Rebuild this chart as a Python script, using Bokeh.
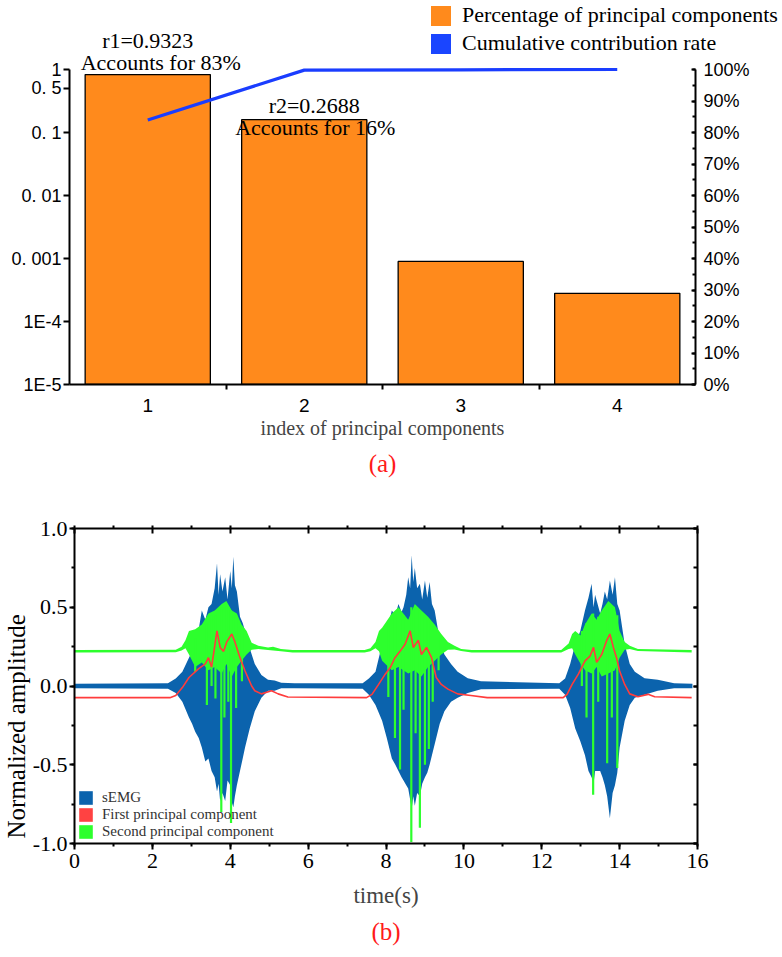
from bokeh.plotting import figure
from bokeh.models import (Range1d, LinearAxis, LinearScale, FixedTicker, SingleIntervalTicker,
                          PrintfTickFormatter, Legend, LegendItem, Label, Title)
from bokeh.layouts import column
from bokeh.embed import file_html
from bokeh.resources import INLINE

# ---------------- Panel (a) data ----------------
pc_index = [1, 2, 3, 4]
pc_percentage = [0.83, 0.16, 0.0009, 0.00028]
cum_contribution = [84.0, 99.8, 99.9, 100.0]
left_tick_values = [1e-5, 1e-4, 1e-3, 1e-2, 0.1, 0.5, 1.0]
left_tick_labels = ["1E-5", "1E-4", "0. 001", "0. 01", "0. 1", "0. 5", "1"]
x_tick_labels = ["1", "2", "3", "4"]
r_labels = ["r1=0.9323", "r2=0.2688"]
acc_labels = ["Accounts for 83%", "Accounts for 16%"]
a_legend_labels = ["Percentage of principal components", "Cumulative contribution rate"]

# ---------------- Panel (b) data ----------------
emg_t = [0.0, 2.4, 2.6, 2.77, 2.94, 3.02, 3.1, 3.19, 3.27, 3.36, 3.44, 3.52, 3.6, 3.66, 3.7,
         3.74, 3.8, 3.87, 3.93, 4.0, 4.04, 4.08, 4.12, 4.17, 4.25, 4.32, 4.38, 4.5, 4.63, 4.8,
         4.97, 5.14, 5.31, 5.65, 7.4, 7.56, 7.73, 7.9, 8.02, 8.15, 8.24, 8.32, 8.4, 8.45, 8.52,
         8.57, 8.62, 8.66, 8.7, 8.74, 8.8, 8.87, 8.93, 9.0, 9.06, 9.12, 9.18, 9.25, 9.38, 9.5,
         9.67, 9.84, 10.1, 10.44, 12.45, 12.6, 12.73, 12.86, 12.99, 13.11, 13.2, 13.28, 13.33,
         13.37, 13.5, 13.56, 13.62, 13.68, 13.75, 13.82, 13.88, 13.94, 14.0, 14.13, 14.26,
         14.39, 14.64, 14.98, 15.4, 15.87]
emg_upper = [0.015, 0.018, 0.048, 0.09, 0.18, 0.22, 0.29, 0.36, 0.48, 0.42, 0.50, 0.52, 0.62,
             0.78, 0.58, 0.71, 0.60, 0.69, 0.55, 0.73, 0.62, 0.82, 0.64, 0.60, 0.44, 0.40, 0.35,
             0.24, 0.14, 0.07, 0.04, 0.035, 0.02, 0.018, 0.018, 0.048, 0.09, 0.265, 0.35, 0.48,
             0.45, 0.52, 0.47, 0.50, 0.58, 0.69, 0.62, 0.83, 0.66, 0.75, 0.62, 0.65, 0.55, 0.67,
             0.56, 0.66, 0.52, 0.48, 0.29, 0.20, 0.14, 0.09, 0.05, 0.03, 0.018, 0.048, 0.14,
             0.265, 0.35, 0.48, 0.56, 0.65, 0.50, 0.58, 0.46, 0.52, 0.60, 0.55, 0.67, 0.58,
             0.69, 0.52, 0.48, 0.265, 0.14, 0.09, 0.05, 0.04, 0.018, 0.015]
emg_lower = [-0.015, -0.018, -0.045, -0.10, -0.20, -0.24, -0.29, -0.33, -0.39, -0.48, -0.46,
             -0.54, -0.58, -0.67, -0.62, -0.73, -0.68, -0.73, -0.60, -0.63, -0.74, -0.77, -0.70,
             -0.63, -0.54, -0.46, -0.39, -0.27, -0.16, -0.075, -0.03, -0.03, -0.015, -0.015,
             -0.018, -0.055, -0.12, -0.22, -0.33, -0.46, -0.50, -0.54, -0.58, -0.60, -0.63,
             -0.65, -0.72, -0.78, -0.70, -0.76, -0.68, -0.70, -0.62, -0.58, -0.55, -0.50, -0.44,
             -0.37, -0.24, -0.16, -0.10, -0.075, -0.045, -0.02, -0.018, -0.055, -0.14, -0.27,
             -0.35, -0.44, -0.54, -0.58, -0.62, -0.54, -0.54, -0.58, -0.63, -0.70, -0.84, -0.68,
             -0.63, -0.55, -0.39, -0.22, -0.12, -0.075, -0.055, -0.03, -0.015, -0.015]

pc1_t = [0.0, 2.45, 2.6, 2.77, 2.94, 3.19, 3.36, 3.44, 3.52, 3.66, 3.74, 3.83, 3.91, 4.04, 4.12,
         4.25, 4.38, 4.55, 4.63, 4.8, 5.06, 5.23, 5.48, 7.5, 7.64, 7.81, 7.98, 8.11, 8.23, 8.36,
         8.49, 8.62, 8.7, 8.83, 8.91, 9.04, 9.17, 9.29, 9.42, 9.59, 9.84, 10.18, 10.6, 12.55,
         12.65, 12.78, 12.94, 13.11, 13.24, 13.33, 13.41, 13.54, 13.67, 13.75, 13.84, 13.92,
         14.0, 14.13, 14.26, 14.47, 14.73, 14.9, 15.85]
pc1_v = [-0.074, -0.074, -0.06, -0.01, 0.054, 0.11, 0.14, 0.18, 0.12, 0.35, 0.245, 0.22, 0.28,
         0.33, 0.28, 0.18, 0.095, 0.0, -0.03, -0.05, -0.03, -0.05, -0.07, -0.074, -0.053, 0.01,
         0.075, 0.117, 0.18, 0.22, 0.265, 0.35, 0.245, 0.29, 0.2, 0.245, 0.18, 0.054, 0.01,
         -0.02, -0.05, -0.06, -0.074, -0.074, -0.053, 0.01, 0.075, 0.16, 0.19, 0.245, 0.15,
         0.2, 0.29, 0.33, 0.245, 0.18, 0.095, 0.01, -0.05, -0.068, -0.053, -0.068, -0.074]

pc2_t = [0.0, 2.6, 2.75, 2.85, 2.94, 3.1, 3.27, 3.44, 3.6, 3.78, 3.9, 4.04, 4.17, 4.29, 4.42,
         4.55, 4.72, 4.97, 5.1, 5.3, 5.6, 7.45, 7.6, 7.73, 7.82, 7.9, 8.15, 8.32, 8.57, 8.74,
         8.91, 9.08, 9.25, 9.42, 9.59, 9.76, 9.93, 10.2, 12.5, 12.69, 12.78, 12.86, 13.0, 13.11,
         13.28, 13.41, 13.54, 13.71, 13.88, 14.0, 14.13, 14.26, 14.47, 15.85]
pc2_top = [0.228, 0.23, 0.25, 0.29, 0.35, 0.36, 0.39, 0.46, 0.48, 0.52, 0.54, 0.48, 0.46, 0.39,
           0.35, 0.275, 0.255, 0.245, 0.25, 0.235, 0.228, 0.228, 0.24, 0.28, 0.35, 0.37, 0.46,
           0.50, 0.42, 0.52, 0.48, 0.44, 0.39, 0.33, 0.28, 0.255, 0.235, 0.228, 0.228, 0.27,
           0.33, 0.35, 0.32, 0.39, 0.46, 0.42, 0.48, 0.54, 0.50, 0.35, 0.28, 0.255, 0.235, 0.228]
pc2_bottom = [0.212, 0.214, 0.225, 0.24, 0.20, 0.12, 0.15, 0.10, 0.12, 0.08, 0.14, 0.06, 0.12,
              0.16, 0.20, 0.23, 0.235, 0.228, 0.225, 0.22, 0.212, 0.212, 0.22, 0.24, 0.22, 0.16,
              0.10, 0.12, 0.08, 0.10, 0.06, 0.12, 0.16, 0.20, 0.23, 0.232, 0.222, 0.212, 0.212,
              0.235, 0.24, 0.20, 0.14, 0.10, 0.08, 0.12, 0.06, 0.08, 0.10, 0.18, 0.23, 0.235,
              0.222, 0.212]
pc2_spike_t = [3.10, 3.40, 3.52, 3.62, 3.77, 3.85, 3.95, 4.02, 4.15, 4.30,
               8.06, 8.23, 8.36, 8.45, 8.65, 8.76, 8.87, 9.0, 9.1, 9.2, 9.35,
               13.03, 13.15, 13.32, 13.45, 13.68, 13.8, 13.94]
pc2_spike_top = [0.30, 0.40, 0.45, 0.45, 0.50, 0.50, 0.50, 0.48, 0.45, 0.38,
                 0.40, 0.46, 0.48, 0.45, 0.50, 0.50, 0.48, 0.45, 0.42, 0.38, 0.33,
                 0.35, 0.40, 0.46, 0.44, 0.50, 0.50, 0.45]
pc2_spike_bottom = [0.09, -0.12, 0.0, -0.08, -0.80, -0.20, -0.10, -0.87, -0.14, 0.03,
                    -0.07, -0.33, -0.53, -0.15, -0.99, -0.30, -0.90, -0.50, -0.40, -0.10, 0.10,
                    0.0, -0.20, -0.69, -0.10, -0.49, -0.20, -0.52]

b_legend_labels = ["sEMG", "First principal component", "Second principal component"]

SANS = "Liberation Sans Narrow, Liberation Sans, Arial, sans-serif"
SERIF = "Liberation Serif, Times New Roman, serif"

ORANGE = "#ff8a1c"
LINE_BLUE = "#1a3dff"
EMG_BLUE = "#0b63ad"
PC1_RED = "#ff3c3c"
PC2_GREEN = "#2dff2d"

# ================= Legend strip of panel (a) =================
# a transparent strip laid over the top of panel (a), so that the legend may
# run past the percentage axis
LEG_H = 56
lf = figure(width=782, height=LEG_H, x_range=Range1d(0, 1), y_range=Range1d(0, 1),
            output_backend="svg", toolbar_location=None,
            x_axis_location=None, y_axis_location=None, frame_align=False,
            min_border_left=0, min_border_right=0, min_border_top=0, min_border_bottom=0)
lf.grid.visible = False
lf.outline_line_color = None
lf.background_fill_alpha = 0
lf.border_fill_alpha = 0
key_bars = lf.vbar(x=pc_index, top=pc_percentage, bottom=0, width=0.8,
                   fill_color=ORANGE, line_color=None, visible=False)
key_cum = lf.varea(x=pc_index, y1=cum_contribution, y2=cum_contribution,
                   fill_color="#1a45ff", visible=False)
leg_a = Legend(items=[LegendItem(label=a_legend_labels[0], renderers=[key_bars]),
                      LegendItem(label=a_legend_labels[1], renderers=[key_cum])],
               location=(428, 0), orientation="vertical",
               glyph_width=25, glyph_height=25, label_height=20, spacing=2, padding=0, margin=0,
               label_standoff=9, label_text_font=SERIF, label_text_font_size="22px",
               label_text_color="black", border_line_color=None, background_fill_alpha=0,
               inactive_fill_alpha=0)
lf.add_layout(leg_a, "center")

# ================= Figure (a) =================
A_W, A_H = 782, 486
A_LEFT, A_RIGHT, A_BOTTOM = 69, 87, 102
A_FRAME_H = A_H - A_BOTTOM           # 384
A_DATA_H = 315                       # height of the 1E-5 .. 1 span
log_top = 10 ** (5.0 * A_FRAME_H / A_DATA_H - 5.0)
pct_top = 100.0 * A_FRAME_H / A_DATA_H

pa = figure(width=A_W, height=A_H, y_axis_type="log",
            x_range=Range1d(0.5, 4.5), y_range=Range1d(1e-5, log_top),
            output_backend="svg", toolbar_location=None, frame_align=False,
            min_border_left=A_LEFT, min_border_right=A_RIGHT, min_border_top=0,
            min_border_bottom=A_BOTTOM)
pa.margin = (-LEG_H, 0, 0, 0)
pa.grid.visible = False
pa.outline_line_color = None
pa.background_fill_alpha = 0
pa.border_fill_alpha = 0

pa.vbar(x=pc_index, top=pc_percentage, bottom=1e-5, width=0.8,
        fill_color=ORANGE, line_color="black", line_width=1.3)

pa.extra_y_ranges = {"pct": Range1d(0, pct_top)}
pa.extra_y_scales = {"pct": LinearScale()}
pa.line(x=pc_index, y=cum_contribution, y_range_name="pct",
        line_color=LINE_BLUE, line_width=3.2)

# left log axis
ya = pa.yaxis[0]
ya.bounds = (1e-5, 1.0)
ya.ticker = FixedTicker(ticks=left_tick_values)
ya.major_label_overrides = {v: s for v, s in zip(left_tick_values, left_tick_labels)}
ya.major_label_text_font = SANS
ya.major_label_text_font_size = "18px"
ya.major_label_text_color = "black"
ya.axis_line_width = 2
ya.axis_line_color = "black"
ya.major_tick_out = 6
ya.major_tick_in = 0
ya.major_tick_line_width = 2
ya.minor_tick_line_color = None
ya.major_label_standoff = 2

# bottom axis
xa = pa.xaxis[0]
xa.ticker = FixedTicker(ticks=pc_index, minor_ticks=[1.5, 2.5, 3.5])
xa.major_label_overrides = {i: s for i, s in zip(pc_index, x_tick_labels)}
xa.major_label_text_font = SANS
xa.major_label_text_font_size = "19px"
xa.major_label_text_color = "black"
xa.axis_line_width = 2
xa.major_tick_line_color = None
xa.major_tick_out = 0
xa.minor_tick_out = 5
xa.minor_tick_in = 0
xa.minor_tick_line_width = 2
xa.major_label_standoff = 9
xa.axis_label = "index of principal components"
xa.axis_label_text_font = SERIF
xa.axis_label_text_font_size = "20px"
xa.axis_label_text_font_style = "normal"
xa.axis_label_standoff = 2

# right percentage axis
ra = LinearAxis(y_range_name="pct", bounds=(0, 100),
                ticker=SingleIntervalTicker(interval=10, num_minor_ticks=2),
                formatter=PrintfTickFormatter(format="%d%%"))
ra.major_label_text_font = SANS
ra.major_label_text_font_size = "18px"
ra.major_label_text_color = "black"
ra.axis_line_width = 2
ra.major_tick_in = 4
ra.major_tick_out = 0
ra.minor_tick_in = 3
ra.minor_tick_out = 0
ra.major_tick_line_width = 2
ra.minor_tick_line_width = 2
ra.major_label_standoff = 8
pa.add_layout(ra, "right")

# annotations above the bars (screen y measured up from the x axis)
ann_y = [(344, 322), (279, 257)]
ann_off = [(0, 13), (10, 11)]
for i in range(2):
    pa.add_layout(Label(x=pc_index[i], y=ann_y[i][0], x_units="data", y_units="screen",
                        x_offset=ann_off[i][0], text=r_labels[i], text_align="center",
                        text_baseline="middle", text_font=SERIF, text_font_size="22px",
                        text_color="black"))
    pa.add_layout(Label(x=pc_index[i], y=ann_y[i][1], x_units="data", y_units="screen",
                        x_offset=ann_off[i][1], text=acc_labels[i], text_align="center",
                        text_baseline="middle", text_font=SERIF, text_font_size="22px",
                        text_color="black"))

pa.add_layout(Title(text="(a)", align="center", offset=8, standoff=12,
                    text_font=SERIF, text_font_size="25px", text_font_style="normal",
                    text_color="#ff1a1a"), "below")

# ================= Figure (b) =================
pb = figure(width=782, height=470, x_range=Range1d(0, 16), y_range=Range1d(-1, 1),
            output_backend="svg", toolbar_location=None, frame_align=False,
            min_border_left=68, min_border_right=85, min_border_top=42, min_border_bottom=113)
pb.grid.visible = False
pb.outline_line_color = None
pb.background_fill_color = "white"
pb.border_fill_color = "white"

r_emg = pb.varea(x=emg_t, y1=emg_lower, y2=emg_upper, fill_color=EMG_BLUE)
r_pc2 = pb.varea(x=pc2_t, y1=pc2_bottom, y2=pc2_top, fill_color=PC2_GREEN)
pb.segment(x0=pc2_spike_t, y0=pc2_spike_bottom, x1=pc2_spike_t, y1=pc2_spike_top,
           line_color=PC2_GREEN, line_width=2.2)
pb.line(x=pc1_t, y=pc1_v, line_color=PC1_RED, line_width=1.6)
pc1_key = pb.varea(x=pc1_t, y1=pc1_v, y2=pc1_v, fill_color="#ff4242")

xticker = SingleIntervalTicker(interval=2, num_minor_ticks=2)
yticker = SingleIntervalTicker(interval=0.5, num_minor_ticks=2)

xb = pb.xaxis[0]
xb.ticker = xticker
xb.major_label_text_font = SERIF
xb.major_label_text_font_size = "22px"
xb.major_label_text_color = "black"
xb.axis_line_width = 2
xb.major_tick_out = 6
xb.major_tick_in = 0
xb.minor_tick_out = 3
xb.minor_tick_in = 0
xb.major_tick_line_width = 2
xb.minor_tick_line_width = 2
xb.major_label_standoff = 4
xb.axis_label = "time(s)"
xb.axis_label_text_font = SERIF
xb.axis_label_text_font_size = "23px"
xb.axis_label_text_font_style = "normal"
xb.axis_label_standoff = 12

yb = pb.yaxis[0]
yb.ticker = yticker
yb.formatter = PrintfTickFormatter(format="%.1f")
yb.major_label_text_font = SERIF
yb.major_label_text_font_size = "22px"
yb.major_label_text_color = "black"
yb.axis_line_width = 2
yb.major_tick_out = 5
yb.major_tick_in = 0
yb.minor_tick_out = 3
yb.minor_tick_in = 0
yb.major_tick_line_width = 2
yb.minor_tick_line_width = 2
yb.major_label_standoff = 2

top_ax = LinearAxis(ticker=xticker, major_label_text_color=None)
top_ax.axis_line_width = 2
top_ax.major_tick_in = 5
top_ax.major_tick_out = 0
top_ax.minor_tick_out = 3
top_ax.minor_tick_in = 0
top_ax.major_tick_line_width = 2
top_ax.minor_tick_line_width = 2
top_ax.major_label_standoff = 0
pb.add_layout(top_ax, "above")

right_ax = LinearAxis(ticker=yticker, major_label_text_color=None)
right_ax.axis_line_width = 2
right_ax.major_tick_in = 4
right_ax.major_tick_out = 0
right_ax.minor_tick_in = 4
right_ax.minor_tick_out = 0
right_ax.major_tick_line_width = 2
right_ax.minor_tick_line_width = 2
right_ax.major_label_standoff = 0
pb.add_layout(right_ax, "right")

pb.add_layout(Title(text="Normalized amplitude", align="left", offset=5, standoff=0,
                    text_font=SERIF, text_font_size="25px", text_font_style="normal",
                    text_color="black"), "left")
pb.add_layout(Title(text="(b)", align="center", offset=0, standoff=11,
                    text_font=SERIF, text_font_size="25px", text_font_style="normal",
                    text_color="#ff1a1a"), "below")

leg_b = Legend(items=[LegendItem(label=b_legend_labels[0], renderers=[r_emg]),
                      LegendItem(label=b_legend_labels[1], renderers=[pc1_key]),
                      LegendItem(label=b_legend_labels[2], renderers=[r_pc2])],
               location=(3, 3), orientation="vertical",
               glyph_width=17, glyph_height=17, label_height=17, spacing=0, padding=0, margin=0,
               label_standoff=8, label_text_font=SERIF, label_text_font_size="15px",
               label_text_color="#333333", border_line_color=None, background_fill_alpha=0)
pb.add_layout(leg_b, "center")

layout = column(lf, pa, pb, spacing=0)
open("out.html", "w").write(file_html(layout, INLINE))
